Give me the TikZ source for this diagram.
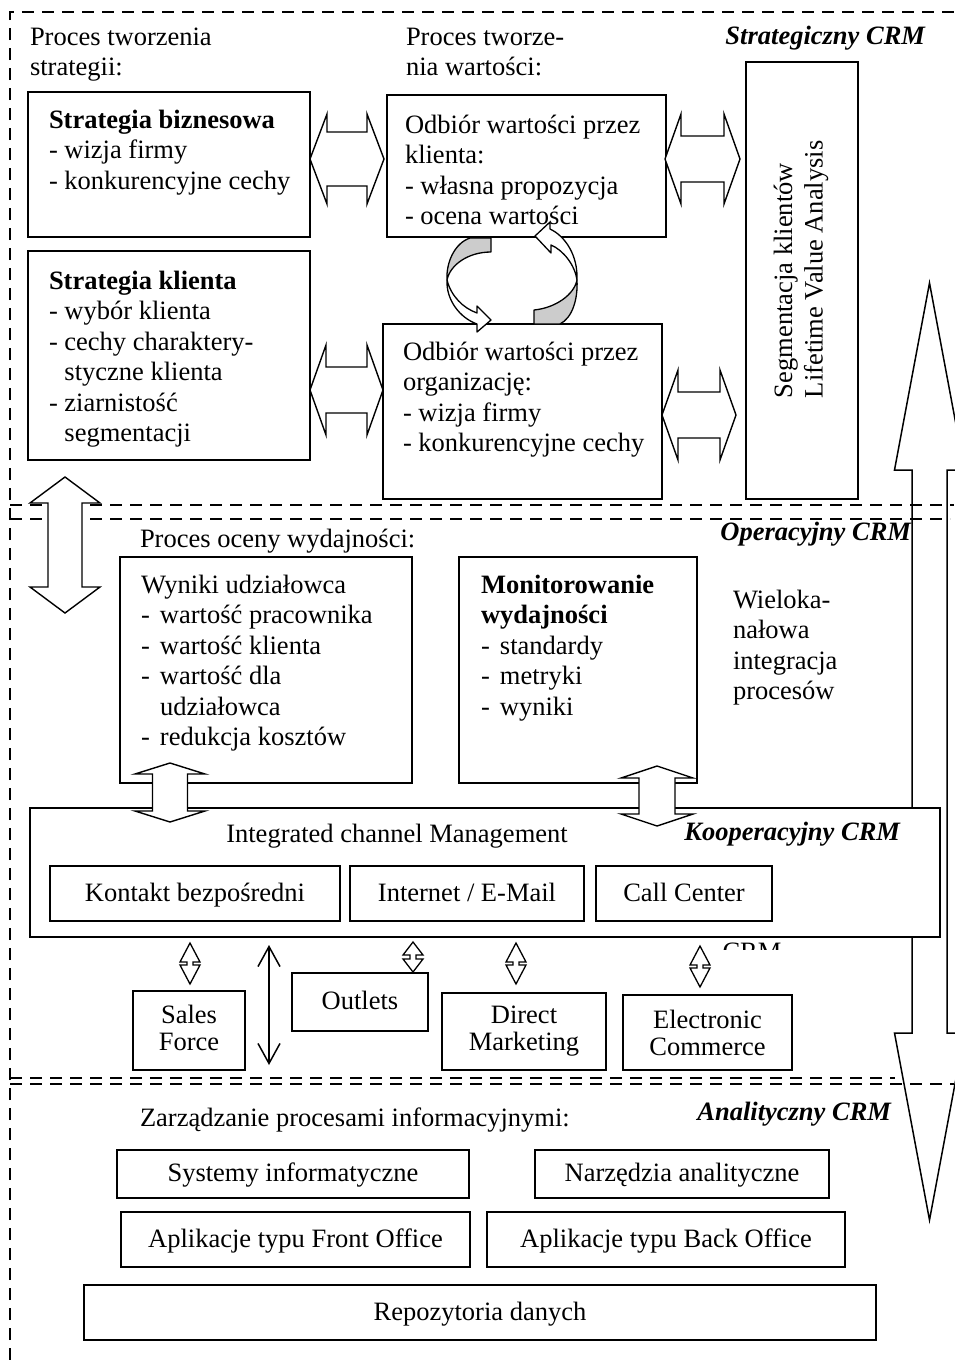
\documentclass[tikz,border=0pt]{standalone}
\usepackage{fontspec}
\setmainfont{Liberation Serif}
\usetikzlibrary{arrows.meta,fit}
\newcommand\myfs{\fontsize{26.5}{30.5}\selectfont}
\newcommand\myfsb{\fontsize{26.5}{27}\selectfont}
\newcommand\itemdash{\makebox[19pt][l]{-}}
% horizontal hollow double arrow: style, x1, x2, y, head half width, shaft half width, head length
\newcommand\hdarrow[7][blk]{%
  \draw[#1] (#2,#4) -- ({#2+#7},{#4-#5}) -- ({#2+#7},{#4-#6}) -- ({#3-#7},{#4-#6}) -- ({#3-#7},{#4-#5}) -- (#3,#4)
    -- ({#3-#7},{#4+#5}) -- ({#3-#7},{#4+#6}) -- ({#2+#7},{#4+#6}) -- ({#2+#7},{#4+#5}) -- cycle;}
% vertical hollow double arrow: style, x, y1, y2, head half width, shaft half width, head length
\newcommand\vdarrow[7][blk]{%
  \draw[#1] (#2,#3) -- ({#2+#5},{#3+#7}) -- ({#2+#6},{#3+#7}) -- ({#2+#6},{#4-#7}) -- ({#2+#5},{#4-#7}) -- (#2,#4)
    -- ({#2-#5},{#4-#7}) -- ({#2-#6},{#4-#7}) -- ({#2-#6},{#3+#7}) -- ({#2-#5},{#3+#7}) -- cycle;}
\begin{document}
\begin{tikzpicture}[x=1pt,y=-1pt,
  every node/.style={inner sep=0pt, outer sep=0pt, font=\myfs},
  box/.style={draw, line width=1.5pt, fill=white, inner sep=0pt},
  tbox/.style={box, line width=2pt},
  txt/.style={anchor=north west, align=left},
  cbox/.style={text height=18pt, text depth=3pt},
  two/.style={align=center, font=\myfsb},
  blk/.style={draw, line width=1.4pt, fill=white, line join=miter},
  bigarr/.style={draw, line width=1.5pt, line join=miter},
  thinarr/.style={draw, line width=1.3pt, fill=white, line join=miter},
  sep/.style={line width=2pt, dash pattern=on 12pt off 8pt},
  crm/.style={font=\myfs\bfseries\itshape},
  carr/.style={draw, line width=1.3pt, fill=white, line join=round},
  cgray/.style={draw, line width=1.3pt, fill=gray!40, line join=round},
  barb/.style={line width=1.5pt, {Straight Barb[length=20pt,width=22pt]}-{Straight Barb[length=20pt,width=22pt]}},
]
\useasboundingbox (0,0) rectangle (954,1360);
\fill[white] (0,0) rectangle (954,1360);

% dashed frame and separators
\draw[sep] (10,1360) -- (10,12) -- (954,12);
\draw[sep] (10,505) -- (954,505);
\draw[sep] (10,519) -- (950,519);
\draw[sep] (10,1078) -- (895,1078);
\draw[sep] (10,1084) -- (954,1084);

% big vertical double arrow on the right
\vdarrow[bigarr]{929.5}{283}{1220}{35}{17.5}{187}

% ---------- Strategiczny CRM ----------
\node[txt] (t1) at (30,23.65) {\strut Proces tworzenia\\strategii:};
\node[txt] (t2) at (406,23.65) {\strut Proces tworze-\\nia wartości:};
\node[anchor=base east, crm] (l1) at (925,44) {Strategiczny CRM};

\node[box, fit={(28,92) (310,237)}] (b1) {};
\node[box, fit={(28,251) (310,460)}] (b2) {};
\node[box, fit={(387,95) (666,237)}] (b3) {};
\node[box, fit={(383,324) (662,499)}] (b4) {};
\node[box, fit={(746,62) (858,499)}] (b5) {};

\node[txt] (b1t) at (49,106.65) {\strut\textbf{Strategia biznesowa}\\- wizja firmy\\- konkurencyjne cechy};
\node[txt] (b2t) at (49,267.65) {\strut\textbf{Strategia klienta}\\- wybór klienta\\- cechy charaktery-\\\phantom{-}\ styczne klienta\\- ziarnistość\\\phantom{-}\ segmentacji};
\node[txt] (b3t) at (405,111.65) {\strut Odbiór wartości przez\\klienta:\\- własna propozycja\\- ocena wartości};
\node[txt] (b4t) at (403,338.65) {\strut Odbiór wartości przez\\organizację:\\- wizja firmy\\- konkurencyjne cechy};
\node[align=left, rotate=90, anchor=west] (b5t) at (801,398) {Segmentacja klientów\\Lifetime Value Analysis};

\hdarrow{310}{384}{159}{45}{27}{17}
\hdarrow{665}{740}{159}{45}{23}{16}
\hdarrow{310}{383}{390}{45}{23}{16}
\hdarrow{662}{736}{415}{45}{23}{16}

% circular arrows
\draw[cgray] (470,238) .. controls (455,243) and (446,262) .. (447,280)
  .. controls (450,265) and (468,252) .. (491,252) -- (491,238) -- cycle;
\draw[carr] (447,280) .. controls (446,300) and (460,318) .. (477,324) -- (477,332) -- (491,320) -- (477,306) -- (477,313)
  .. controls (463,308) and (451,296) .. (447,280) -- cycle;
\draw[cgray] (560,324) .. controls (572,318) and (578,300) .. (577,280)
  .. controls (574,295) and (555,308) .. (534,310) -- (534,324) -- cycle;
\draw[carr] (577,280) .. controls (578,255) and (565,236) .. (550,229) -- (550,222) -- (535,236) -- (551,253) -- (551,245)
  .. controls (563,250) and (575,265) .. (577,280) -- cycle;

% left double arrow between sections
\vdarrow{65}{477}{613}{35}{17}{26}

% ---------- Operacyjny CRM ----------
\node[anchor=base west] (t3) at (140,547) {Proces oceny wydajności:};
\node[anchor=base east, crm] (l2) at (911,540) {Operacyjny CRM};
\node[box, fit={(120,557) (412,783)}] (w1) {};
\node[box, fit={(459,557) (697,783)}] (w2) {};
\node[txt] (w1t) at (141,571.65) {\strut Wyniki udziałowca\\\itemdash wartość pracownika\\\itemdash wartość klienta\\\itemdash wartość dla\\\hspace*{19pt}udziałowca\\\itemdash redukcja kosztów};
\node[txt] (w2t) at (481,571.65) {\strut\textbf{Monitorowanie}\\\textbf{wydajności}\\\itemdash standardy\\\itemdash metryki\\\itemdash wyniki};
\node[txt] (w3t) at (733,586.65) {\strut Wieloka-\\nałowa\\integracja\\procesów};

% ---------- Kooperacyjny CRM ----------
\node[box, fit={(30,808) (940,937)}] (icm) {};
\node[anchor=base] (icmt) at (397,842) {Integrated channel Management};
\node[anchor=base east, crm] (l3) at (900,840) {Kooperacyjny CRM};
\node[tbox, fit={(50,866) (340,921)}] (k1) {};
\node[tbox, fit={(350,866) (584,921)}] (k2) {};
\node[tbox, fit={(596,866) (772,921)}] (k3) {};
\node[cbox] (k1t) at (k1.center) {Kontakt bezpośredni};
\node[cbox] (k2t) at (k2.center) {Internet / E-Mail};
\node[cbox] (k3t) at (k3.center) {Call Center};

\vdarrow{170}{763}{822}{35}{17.5}{11}
\vdarrow{657}{766}{826}{36}{18}{12}

\begin{scope}
  \clip (700,939) rectangle (800,949);
  \node[anchor=base] (ghost) at (752,960) {CRM};
\end{scope}

\node[tbox, fit={(133,991) (245,1070)}] (sf) {};
\node[tbox, fit={(292,973) (428,1031)}] (ou) {};
\node[tbox, fit={(442,993) (606,1070)}] (dm) {};
\node[tbox, fit={(623,995) (792,1070)}] (ec) {};
\node[two, yshift=3pt] (sft) at (sf.center) {Sales\\Force};
\node[cbox] (out) at (ou.center) {Outlets};
\node[two] (dmt) at (dm.center) {Direct\\Marketing};
\node[two] (ect) at (ec.center) {Electronic\\Commerce};

\vdarrow[thinarr]{190}{943}{984}{10}{3}{19}
\vdarrow[thinarr]{413}{942}{972}{10}{3}{13}
\vdarrow[thinarr]{516}{943}{984}{10}{3}{19}
\vdarrow[thinarr]{700}{946}{987}{10}{3}{19}
\coordinate (la1) at (269,945);
\coordinate (la2) at (269,1065);
\draw[barb] (la1) -- (la2);

% ---------- Analityczny CRM ----------
\node[anchor=base west] (t4) at (140,1126) {Zarządzanie procesami informacyjnymi:};
\node[anchor=base east, crm] (l4) at (891,1120) {Analityczny CRM};
\node[box, fit={(117,1150) (469,1198)}] (a1) {};
\node[box, fit={(535,1150) (829,1198)}] (a2) {};
\node[box, fit={(121,1212) (470,1267)}] (a3) {};
\node[box, fit={(487,1212) (845,1267)}] (a4) {};
\node[box, fit={(84,1285) (876,1340)}] (a5) {};
\node[cbox] (a1t) at (a1.center) {Systemy informatyczne};
\node[cbox] (a2t) at (a2.center) {Narzędzia analityczne};
\node[cbox] (a3t) at (a3.center) {Aplikacje typu Front Office};
\node[cbox] (a4t) at (a4.center) {Aplikacje typu Back Office};
\node[cbox] (a5t) at (a5.center) {Repozytoria danych};
\end{tikzpicture}
\end{document}
